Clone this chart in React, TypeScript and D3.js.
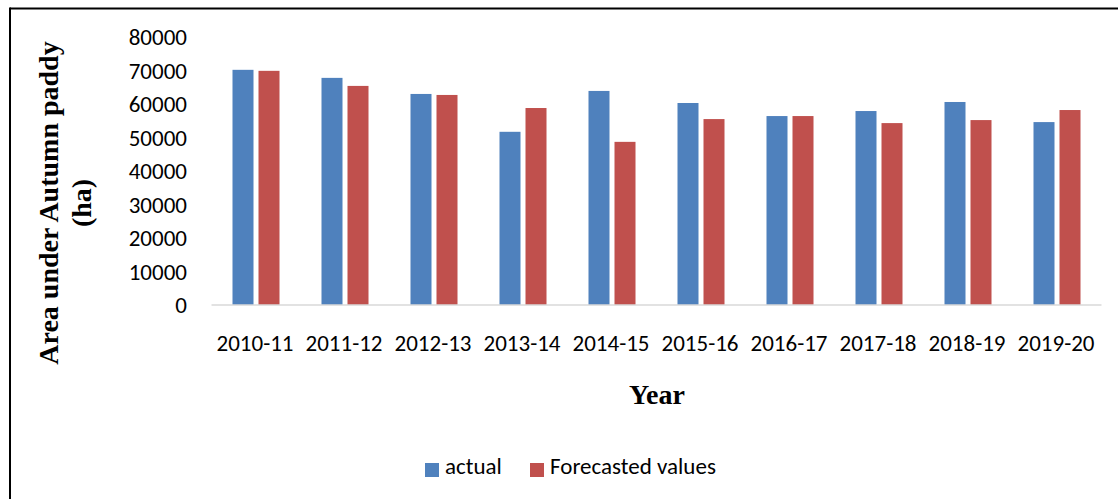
import React from "react";
import * as d3 from "d3";

const categories = ["2010-11", "2011-12", "2012-13", "2013-14", "2014-15", "2015-16", "2016-17", "2017-18", "2018-19", "2019-20"];
const actual = [70200, 67800, 63000, 51700, 63900, 60300, 56400, 57900, 60600, 54600];
const forecasted = [69900, 65400, 62700, 58800, 48700, 55500, 56400, 54300, 55200, 58200];
const yTicks = [0, 10000, 20000, 30000, 40000, 50000, 60000, 70000, 80000];
const seriesNames = ["actual", "Forecasted values"];
const colors = ["#4F81BD", "#C0504D"];

const W = 1118;
const H = 499;
const plotLeft = 211.5;
const plotRight = 1101.5;
const plotTop = 37;
const plotBottom = 305;
const sansFont = "Calibri, Carlito, 'Open Sans', sans-serif";
const serifFont = "'Times New Roman', 'Liberation Serif', serif";

export default function App() {
  const x = d3.scaleBand<string>().domain(categories).range([plotLeft, plotRight]).padding(0);
  const y = d3.scaleLinear().domain([0, 80000]).range([plotBottom, plotTop]);
  const barW = x.bandwidth() * 0.236;
  const gap = 5;
  const series = [actual, forecasted];

  return (
    <svg width={W} height={H} style={{ position: "absolute", left: 0, top: 0, background: "#fff" }}>
      <rect x={0} y={0} width={W} height={H} fill="#fff" />
      {/* frame */}
      <line x1={10} y1={8.5} x2={W} y2={8.5} stroke="#000" strokeWidth={2} />
      <line x1={10} y1={7.5} x2={10} y2={H} stroke="#000" strokeWidth={2} />

      {/* y tick labels */}
      {yTicks.map((t) => (
        <text key={t} x={187} y={y(t)} dy="0.35em" textAnchor="end" fontFamily={sansFont} fontSize={23} fill="#000">
          {t}
        </text>
      ))}

      {/* bars */}
      {categories.map((c, i) => {
        const cx = (x(c) as number) + x.bandwidth() / 2;
        return series.map((s, k) => {
          const bx = k === 0 ? cx - gap / 2 - barW : cx + gap / 2;
          return (
            <rect key={c + k} x={bx} y={y(s[i])} width={barW} height={y(0) - y(s[i])} fill={colors[k]} />
          );
        });
      })}

      {/* x axis line */}
      <line x1={plotLeft} x2={plotRight} y1={plotBottom} y2={plotBottom} stroke="#d9d9d9" strokeWidth={1.5} />

      {/* x tick labels */}
      {categories.map((c) => (
        <text key={c} x={(x(c) as number) + x.bandwidth() / 2 - 1} y={351} textAnchor="middle" fontFamily={sansFont} fontSize={23} fill="#000">
          {c}
        </text>
      ))}

      {/* x axis title */}
      <text x={657} y={404} textAnchor="middle" fontFamily={serifFont} fontWeight="bold" fontSize={28} fill="#000">
        Year
      </text>

      {/* y axis title */}
      <g transform="translate(0,203) rotate(-90)">
        <text x={0} y={58} textAnchor="middle" fontFamily={serifFont} fontWeight="bold" fontSize={28} fill="#000">
          Area under Autumn paddy
        </text>
        <text x={0} y={91} textAnchor="middle" fontFamily={serifFont} fontWeight="bold" fontSize={28} fill="#000">
          (ha)
        </text>
      </g>

      {/* legend */}
      <rect x={425} y={463} width={14} height={14} fill={colors[0]} />
      <text x={445} y={474} fontFamily={sansFont} fontSize={23} fill="#000">{seriesNames[0]}</text>
      <rect x={530} y={463} width={14} height={14} fill={colors[1]} />
      <text x={550} y={474} fontFamily={sansFont} fontSize={23} fill="#000">{seriesNames[1]}</text>
    </svg>
  );
}
